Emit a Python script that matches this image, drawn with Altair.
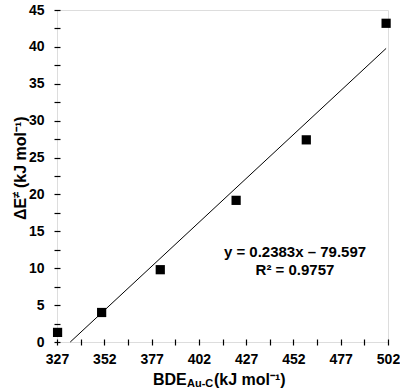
import altair as alt
import pandas as pd

# data
bde = [327.3, 350.6, 381.6, 421.7, 458.8, 501.0]
dE = [1.3, 4.0, 9.8, 19.2, 27.4, 43.2]

slope = 0.2383
intercept = -79.597
fit_x = [334.0, 501.0]
fit_y = [slope * v + intercept for v in fit_x]

x_ticks = [327 + 12.5 * i for i in range(15)]
y_ticks = [2.5 * i for i in range(19)]

eq_lines = ["y = 0.2383x – 79.597", "R² = 0.9757"]

FONT = "Liberation Sans"
W, H = 331, 332

pts = pd.DataFrame({"x": bde, "y": dE})
fit = pd.DataFrame({"x": fit_x, "y": fit_y})

xscale = alt.Scale(domain=[327, 502], nice=False, zero=False)
yscale = alt.Scale(domain=[0, 45], nice=False)

xaxis = alt.Axis(
    values=x_ticks, title=None, grid=False, domain=False,
    labelExpr="(datum.value - 327) % 25 == 0 ? datum.label : ''",
    labelFont=FONT, labelFontSize=14, labelFontWeight="bold", labelColor="black",
    tickColor="black", tickSize=6, tickWidth=1.2, offset=-3, labelPadding=7,
    labelOverlap=False, labelFlush=False,
)
yaxis = alt.Axis(
    values=y_ticks, title=None, grid=False, domain=False,
    labelExpr="datum.value % 5 == 0 ? datum.label : ''",
    labelFont=FONT, labelFontSize=14, labelFontWeight="bold", labelColor="black",
    tickColor="black", tickSize=6, tickWidth=1.2, offset=-3, labelPadding=10,
    labelOverlap=False, labelFlush=False,
)

points = alt.Chart(pts).mark_square(size=85, color="black", opacity=1).encode(
    x=alt.X("x:Q", scale=xscale, axis=xaxis),
    y=alt.Y("y:Q", scale=yscale, axis=yaxis),
)

line = alt.Chart(fit).mark_line(color="black", strokeWidth=1).encode(
    x=alt.X("x:Q", scale=xscale, axis=xaxis),
    y=alt.Y("y:Q", scale=yscale, axis=yaxis),
)

def txt(s, x, y, size, angle=0, align="left"):
    kw = dict(font=FONT, fontSize=size, fontWeight="bold", align=align,
              baseline="alphabetic", color="black")
    if angle:
        kw["angle"] = angle
    return alt.Chart(pd.DataFrame({"t": [s]})).mark_text(**kw).encode(
        text="t:N", x=alt.value(x), y=alt.value(y))

eq = txt(eq_lines[0], 238, 247, 15, align="center")
r2 = txt(eq_lines[1], 238, 265, 15, align="center")

xt1 = txt("BDE", 96, 375, 16)
xt2 = txt("Au-C", 130, 377, 11)
xt3 = txt("(kJ mol⁻¹)", 157, 375, 16)

yt1 = txt("ΔE", -31, 210, 16, 270)
yt2 = txt("≠", -37, 188, 11, 270)
yt3 = txt("(kJ mol⁻¹)", -31, 178, 16, 270)

chart = alt.layer(line, points, eq, r2, xt1, xt2, xt3, yt1, yt2, yt3).properties(
    width=W, height=H,
    padding={"left": 57, "top": 10, "right": 12, "bottom": 48},
    autosize=alt.AutoSizeParams(type="none"),
).configure_view(stroke="black", strokeWidth=1.5).configure(background="white")

chart.save("out.html", embed_options={"renderer": "svg", "actions": False})
